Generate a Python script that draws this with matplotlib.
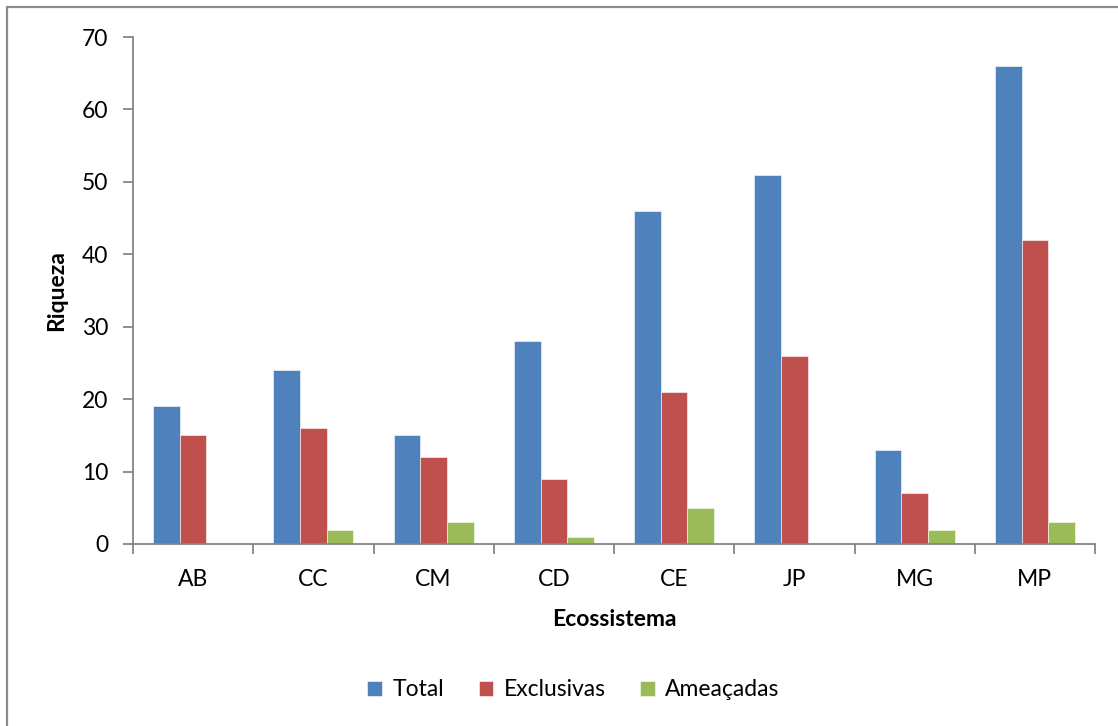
import matplotlib
matplotlib.use("Agg")
import matplotlib.pyplot as plt
import numpy as np
from matplotlib.patches import Rectangle

plt.rcParams["font.family"] = ["Lato", "DejaVu Sans"]

ecossistemas = ["AB", "CC", "CM", "CD", "CE", "JP", "MG", "MP"]
total = [19, 24, 15, 28, 46, 51, 13, 66]
exclusivas = [15, 16, 12, 9, 21, 26, 7, 42]
ameacadas = [0, 2, 3, 1, 5, 0, 2, 3]

BLUE = "#4F81BD"
RED = "#C0504D"
GREEN = "#9BBB59"
AXIS = "#868686"
FS = 16.5

fig = plt.figure(figsize=(11.18, 7.26), dpi=100, facecolor="white")
ax = fig.add_axes([133 / 1118, 1 - 544 / 726, (1095 - 133) / 1118, (544 - 37) / 726])

# outer chart frame (only top and left visible)
fig.patches.append(Rectangle((7 / 1118, -0.1), 1.2, 1 - 7 / 726 + 0.1,
                             transform=fig.transFigure, fill=False,
                             edgecolor="#8c8c8c", lw=1.6))

x = np.arange(len(ecossistemas))
w = 0.222
series = [(total, BLUE, "Total"), (exclusivas, RED, "Exclusivas"),
          (ameacadas, GREEN, "Ameaçadas")]
for i, (vals, col, lab) in enumerate(series):
    ax.bar(x + (i - 1) * w, vals, width=w, color=col, label=lab,
           edgecolor="white", linewidth=0.4)

ax.set_xlim(-0.5, len(ecossistemas) - 0.5)
ax.set_ylim(0, 70)
ax.set_yticks(range(0, 71, 10))
ax.set_xticks(x)
ax.set_xticklabels(ecossistemas)
ax.set_xticks(np.arange(-0.5, len(ecossistemas)), minor=True)
ax.tick_params(axis="x", which="major", length=0, pad=18, labelsize=FS)
ax.tick_params(axis="x", which="minor", length=7, width=1.3, color=AXIS, direction="out")
ax.tick_params(axis="y", length=7, width=1.3, color=AXIS, labelsize=FS, pad=11)

for side in ("top", "right"):
    ax.spines[side].set_visible(False)
for side in ("left", "bottom"):
    ax.spines[side].set_color(AXIS)
    ax.spines[side].set_linewidth(1.3)

ax.set_xlabel("Ecossistema", fontsize=FS, fontweight="bold", labelpad=14)
ax.set_ylabel("Riqueza", fontsize=FS, fontweight="bold", labelpad=10)

fig.legend(loc="center", bbox_to_anchor=(0.513, 1 - 690 / 726), ncol=3,
           frameon=False, fontsize=FS, handlelength=0.65, handleheight=0.65,
           handletextpad=0.45, columnspacing=1.5)

fig.savefig("out.png", dpi=100, facecolor="white")
